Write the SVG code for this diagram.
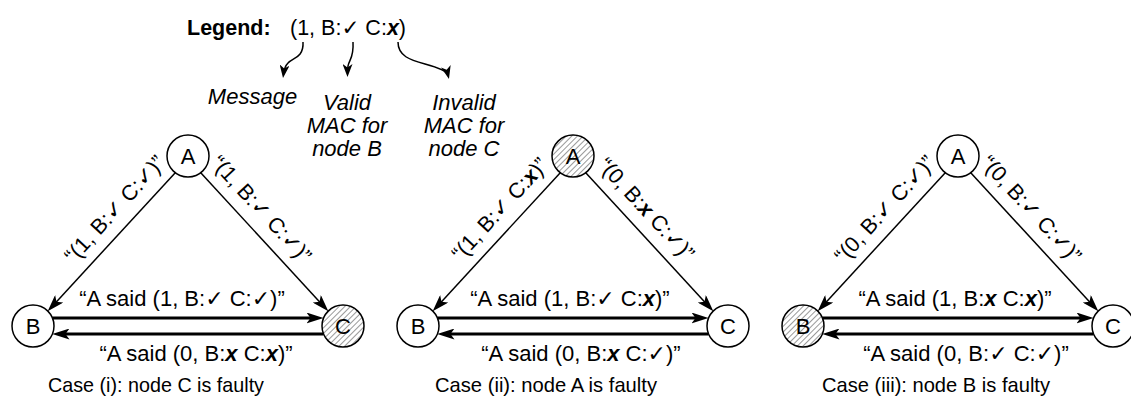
<svg xmlns="http://www.w3.org/2000/svg" width="1131" height="404" viewBox="0 0 1131 404">
<style>
text{font-family:"Liberation Sans",Arial,Helvetica,"DejaVu Sans",sans-serif;fill:#000}
.lbl{font-size:22px;text-anchor:middle}
.dl{font-size:21.5px;text-anchor:middle}
.cap{font-size:21px;text-anchor:middle}
.nl{font-size:22px;text-anchor:middle}
.note{font-size:22px;font-style:italic;text-anchor:middle}
.x{font-style:italic;font-weight:bold}
.node{fill:#fff;stroke:#000;stroke-width:1.5}
.hat{fill:url(#hatch);stroke:#000;stroke-width:1.5}
.thin{stroke:#000;stroke-width:1.5;fill:none;marker-end:url(#ah)}
.thick{stroke:#000;stroke-width:3;fill:none;marker-end:url(#ah)}
.leg{stroke:#000;stroke-width:1.5;fill:none;marker-end:url(#ahs)}
</style>
<defs>
<marker id="ah" viewBox="0 0 17 11" refX="10" refY="5.5" markerWidth="17" markerHeight="11" markerUnits="userSpaceOnUse" orient="auto"><path d="M0,0 L17,5.5 L0,11 L4,5.5 z" fill="#000"/></marker>
<marker id="ahs" viewBox="0 0 13 10" refX="9" refY="5" markerWidth="13" markerHeight="10" markerUnits="userSpaceOnUse" orient="auto"><path d="M0,0 L13,5 L0,10 L3.5,5 z" fill="#000"/></marker>
<pattern id="hatch" width="4" height="4" patternUnits="userSpaceOnUse" patternTransform="rotate(45)"><rect width="4" height="4" fill="#fff"/><line x1="0" y1="0" x2="0" y2="4" stroke="#000" stroke-width="0.8"/></pattern>
</defs>

<g id="legend">
<text x="187" y="35" style="font-size:21.5px;font-weight:bold">Legend:</text>
<text x="290" y="35" style="font-size:21.5px">(1, B:✓ C:<tspan class="x">x</tspan>)</text>
<path class="leg" d="M303,42 C304,58 292,58 288,63 C285,66 284,70 283.5,74"/>
<path class="leg" d="M353,42 C354,58 349,60 348,66 C347.6,69 347.5,71 347.5,73"/>
<path class="leg" d="M398,42 C398,56 410,60 425,64 C440,68 447,71 448,75"/>
<text class="note" x="252.5" y="104">Message</text>
<text class="note" x="347" y="110">Valid</text>
<text class="note" x="347" y="133">MAC for</text>
<text class="note" x="347" y="156">node B</text>
<text class="note" x="464" y="110">Invalid</text>
<text class="note" x="464" y="133">MAC for</text>
<text class="note" x="464" y="156">node C</text>
</g>

<!-- Case (i) -->
<g id="connectors-i">
<line class="thin" x1="175.5" y1="172.5" x2="52.4" y2="306.15"/>
<line class="thin" x1="200.5" y1="172.5" x2="323.6" y2="306.15"/>
<line class="thick" x1="52.5" y1="318" x2="316.5" y2="318"/>
<line class="thick" x1="323.5" y1="334" x2="59.5" y2="334"/>
<text class="dl" transform="translate(120,214) rotate(-47.4)">“(1, B:✓ C:✓)”</text>
<text class="dl" transform="translate(256,214) rotate(47.4)">“(1, B:✓ C:✓)”</text>
<text class="lbl" x="182" y="306">“A said (1, B:✓ C:✓)”</text>
<text class="lbl" x="196" y="361">“A said (0, B:<tspan class="x">x</tspan> C:<tspan class="x">x</tspan>)”</text>
</g>
<g id="i-A"><circle class="node" cx="188" cy="156" r="21"/><text class="nl" x="188" y="164">A</text></g>
<g id="i-B"><circle class="node" cx="33" cy="326" r="21"/><text class="nl" x="33" y="334">B</text></g>
<g id="i-C"><circle class="hat" cx="343" cy="326" r="21"/><text class="nl" x="343" y="334">C</text></g>
<text class="cap" x="156" y="392" textLength="216" lengthAdjust="spacingAndGlyphs">Case (i): node C is faulty</text>

<!-- Case (ii) -->
<g id="connectors-ii">
<line class="thin" x1="560.5" y1="172.5" x2="437.4" y2="306.15"/>
<line class="thin" x1="585.5" y1="172.5" x2="708.6" y2="306.15"/>
<line class="thick" x1="437.5" y1="318" x2="701.5" y2="318"/>
<line class="thick" x1="708.5" y1="334" x2="444.5" y2="334"/>
<text class="dl" transform="translate(505,214) rotate(-47.4)">“(1, B:✓ C:<tspan class="x">x</tspan>)”</text>
<text class="dl" transform="translate(641,214) rotate(47.4)">“(0, B:<tspan class="x">x</tspan> C:✓)”</text>
<text class="lbl" x="570" y="306">“A said (1, B:✓ C:<tspan class="x">x</tspan>)”</text>
<text class="lbl" x="581" y="361">“A said (0, B:<tspan class="x">x</tspan> C:✓)”</text>
</g>
<g id="ii-A"><circle class="hat" cx="573" cy="156" r="21"/><text class="nl" x="573" y="164">A</text></g>
<g id="ii-B"><circle class="node" cx="418" cy="326" r="21"/><text class="nl" x="418" y="334">B</text></g>
<g id="ii-C"><circle class="node" cx="728" cy="326" r="21"/><text class="nl" x="728" y="334">C</text></g>
<text class="cap" x="546" y="392" textLength="222" lengthAdjust="spacingAndGlyphs">Case (ii): node A is faulty</text>

<!-- Case (iii) -->
<g id="connectors-iii">
<line class="thin" x1="945.5" y1="172.5" x2="822.4" y2="306.15"/>
<line class="thin" x1="970.5" y1="172.5" x2="1093.6" y2="306.15"/>
<line class="thick" x1="822.5" y1="318" x2="1086.5" y2="318"/>
<line class="thick" x1="1093.5" y1="334" x2="829.5" y2="334"/>
<text class="dl" transform="translate(890,214) rotate(-47.4)">“(0, B:✓ C:✓)”</text>
<text class="dl" transform="translate(1026,214) rotate(47.4)">“(0, B:✓ C:✓)”</text>
<text class="lbl" x="955" y="306">“A said (1, B:<tspan class="x">x</tspan> C:<tspan class="x">x</tspan>)”</text>
<text class="lbl" x="966" y="361">“A said (0, B:✓ C:✓)”</text>
</g>
<g id="iii-A"><circle class="node" cx="958" cy="156" r="21"/><text class="nl" x="958" y="164">A</text></g>
<g id="iii-B"><circle class="hat" cx="803" cy="326" r="21"/><text class="nl" x="803" y="334">B</text></g>
<g id="iii-C"><circle class="node" cx="1113" cy="326" r="21"/><text class="nl" x="1113" y="334">C</text></g>
<text class="cap" x="936" y="392" textLength="228" lengthAdjust="spacingAndGlyphs">Case (iii): node B is faulty</text>
</svg>
